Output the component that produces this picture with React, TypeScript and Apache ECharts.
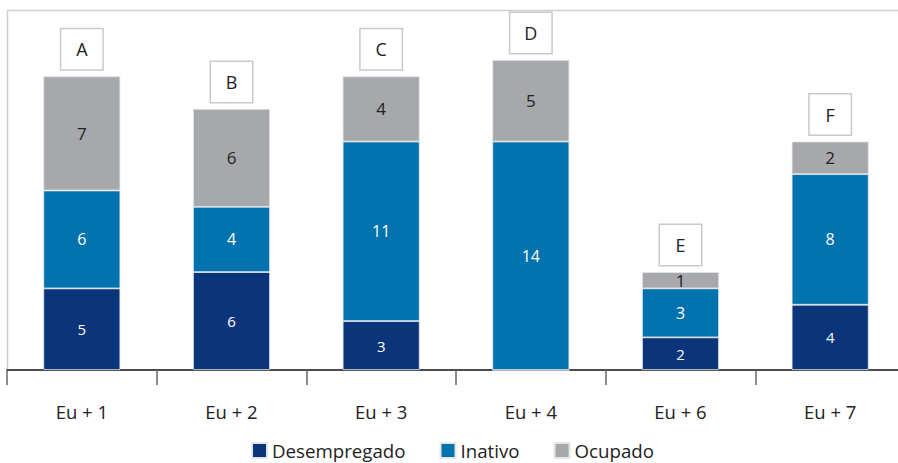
import React, { useEffect, useRef } from "react";
import * as echarts from "echarts";

const categories = ["Eu + 1", "Eu + 2", "Eu + 3", "Eu + 4", "Eu + 6", "Eu + 7"];
const groupLetters = ["A", "B", "C", "D", "E", "F"];
const desempregado = [5, 6, 3, 0, 2, 4];
const inativo = [6, 4, 11, 14, 3, 8];
const ocupado = [7, 6, 4, 5, 1, 2];
const seriesNames = ["Desempregado", "Inativo", "Ocupado"];

const FONT = "'Open Sans', 'Noto Sans', sans-serif";
const COLORS = ["#0b357a", "#0072ad", "#a7a8ac"];

export default function App() {
  const ref = useRef<HTMLDivElement>(null);

  useEffect(() => {
    if (!ref.current) return;
    const chart = echarts.init(ref.current, undefined, { renderer: "svg" });

    const valueLabel = (color: string, size: number) => ({
      show: true,
      position: "inside" as const,
      color,
      fontFamily: FONT,
      fontSize: size,
      formatter: (p: any) => (p.value ? String(p.value) : ""),
    });

    const barBase = {
      type: "bar" as const,
      stack: "total",
      barWidth: 77,
      itemStyle: { borderColor: "#e4e6ea", borderWidth: 0.8 },
    };

    chart.setOption({
      animation: false,
      textStyle: { fontFamily: FONT },
      grid: {
        left: 7,
        width: 898,
        top: 11,
        height: 359,
        containLabel: false,
        outerBoundsMode: "none",
      },
      graphic: [
        {
          type: "line",
          shape: { x1: 7, y1: 10.5, x2: 898, y2: 10.5 },
          style: { stroke: "#cfcfcf", lineWidth: 1.5 },
        },
        {
          type: "line",
          shape: { x1: 7.5, y1: 10, x2: 7.5, y2: 370 },
          style: { stroke: "#cfcfcf", lineWidth: 1.5 },
        },
      ],
      legend: {
        data: seriesNames,
        left: 251,
        top: 441,
        padding: 0,
        itemWidth: 15,
        itemHeight: 15,
        itemGap: 34,
        icon: "rect",
        textStyle: { fontFamily: FONT, fontSize: 18.7, color: "#222" },
      },
      xAxis: {
        type: "category",
        data: categories,
        axisLine: { lineStyle: { color: "#111", width: 1.5 } },
        axisTick: {
          show: true,
          interval: 0,
          alignWithLabel: false,
          length: 15,
          lineStyle: { color: "#666", width: 1.5 },
        },
        axisLabel: { fontFamily: FONT, fontSize: 18.5, color: "#222", margin: 32 },
      },
      yAxis: { type: "value", min: 0, max: 22, show: false, splitLine: { show: false } },
      series: [
        {
          ...barBase,
          name: seriesNames[0],
          data: desempregado,
          itemStyle: { ...barBase.itemStyle, color: COLORS[0] },
          label: valueLabel("#fff", 15),
        },
        {
          ...barBase,
          name: seriesNames[1],
          data: inativo,
          itemStyle: { ...barBase.itemStyle, color: COLORS[1] },
          label: valueLabel("#fff", 16),
        },
        {
          ...barBase,
          name: seriesNames[2],
          data: ocupado,
          itemStyle: { ...barBase.itemStyle, color: COLORS[2] },
          label: valueLabel("#222", 17),
        },
        {
          type: "bar",
          stack: "total",
          barWidth: 77,
          name: "grupo",
          silent: true,
          data: categories.map(() => 0),
          itemStyle: { color: "transparent" },
          label: {
            show: true,
            position: "top",
            distance: 7,
            formatter: (p: any) => groupLetters[p.dataIndex],
            fontFamily: FONT,
            fontSize: 18,
            color: "#222",
            backgroundColor: "#fff",
            borderColor: "#c9c9c9",
            borderWidth: 1.5,
            width: 41,
            height: 40,
            lineHeight: 40,
            align: "center",
          },
        },
      ],
    });

    return () => chart.dispose();
  }, []);

  return (
    <div
      ref={ref}
      style={{ position: "absolute", left: 0, top: 0, width: 898, height: 463 }}
    />
  );
}
